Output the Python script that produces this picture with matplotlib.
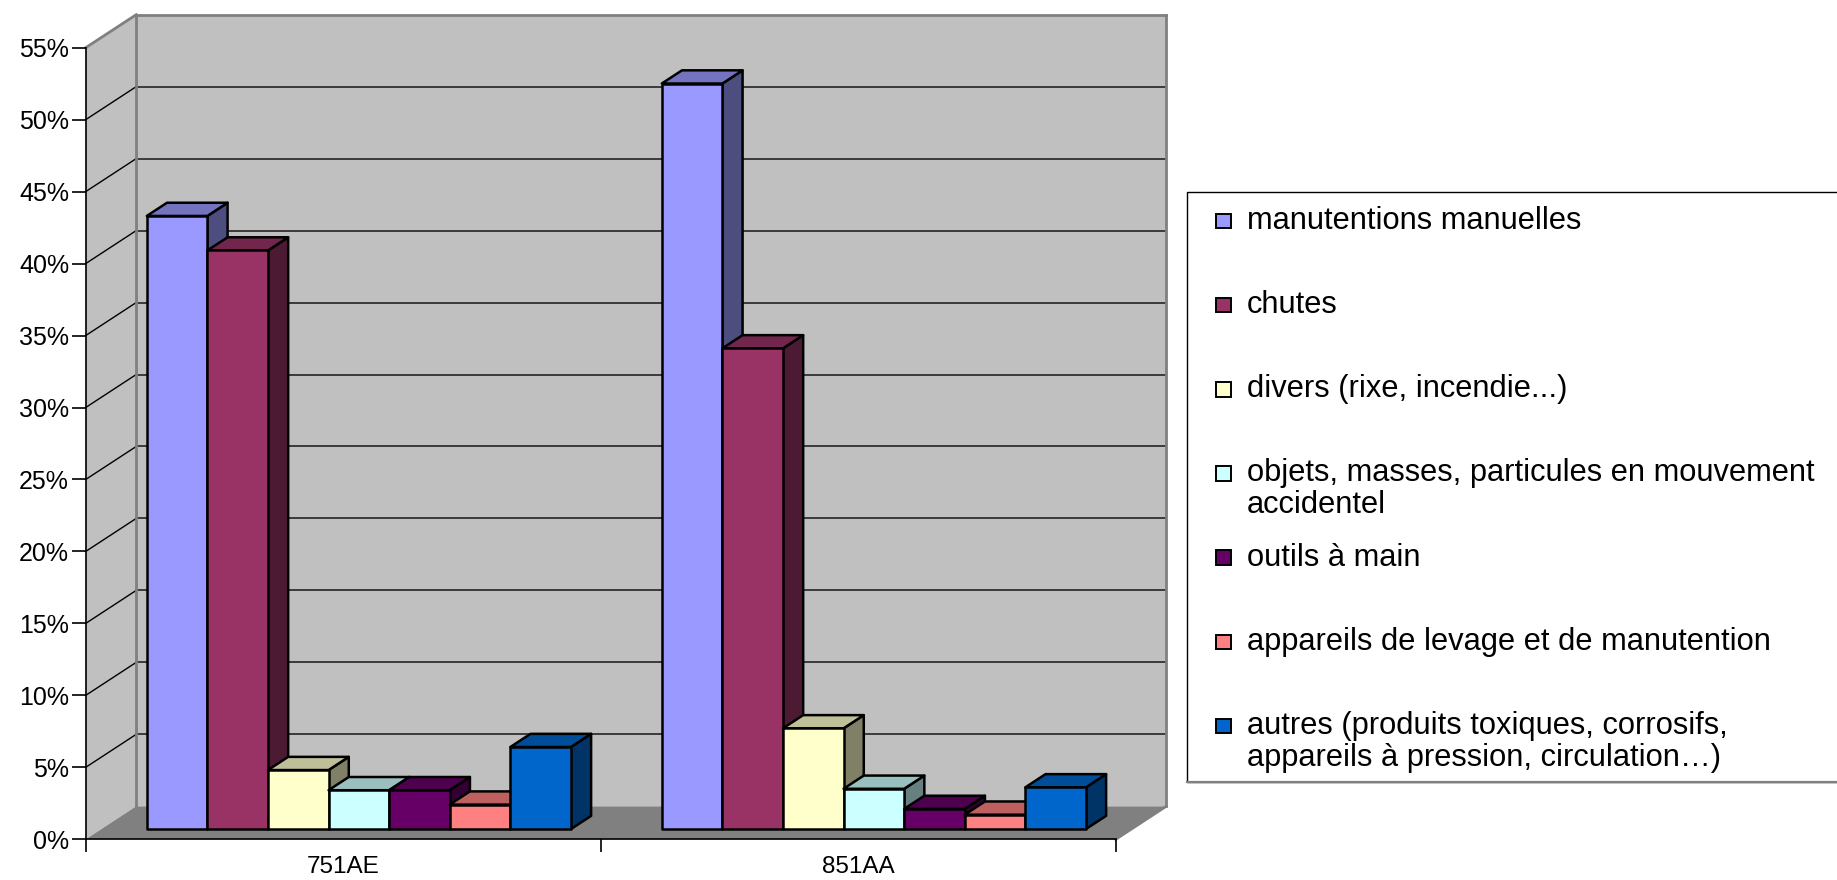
import numpy as np
import matplotlib.pyplot as plt
from matplotlib.patches import Polygon, Rectangle
from matplotlib.colors import to_rgb

plt.rcParams['font.family'] = ['Liberation Sans', 'DejaVu Sans']

# data (percent)
categories = ['751AE', '851AA']
series = ['manutentions manuelles',
          'chutes',
          'divers (rixe, incendie...)',
          'objets, masses, particules en mouvement\naccidentel',
          'outils à main',
          'appareils de levage et de manutention',
          'autres (produits toxiques, corrosifs,\nappareils à pression, circulation…)']
values_751AE = [42.6, 40.2, 4.1, 2.7, 2.7, 1.7, 5.7]
values_851AA = [51.8, 33.4, 7.0, 2.8, 1.4, 1.0, 2.9]
colors = ['#9999ff', '#993366', '#ffffcc', '#ccffff', '#660066', '#ff8080', '#0066cc']
yticks = list(range(0, 56, 5))

W, H = 1837, 880
fig = plt.figure(figsize=(W / 100, H / 100), dpi=100)


def shade(c, k):
    r, g, b = to_rgb(c)
    return (r * k, g * k, b * k)


# front plane of the pseudo 3d box
ax = fig.add_axes([85.7 / W, 40.7 / H, 1030 / W, 791.6 / H])
ax.set_xlim(0, 2)
ax.set_ylim(0, 55)
ax.patch.set_visible(False)
for s in ['top', 'right']:
    ax.spines[s].set_visible(False)
ax.spines['left'].set_linewidth(1.2)
ax.spines['bottom'].set_linewidth(1.2)

# depth of the box (pixels) converted to data units
px_x = ax.bbox.width / 2
px_y = ax.bbox.height / 55
ddx = 50.5 / px_x
ddy = 33 / px_y

grey = '#808080'
back = [(ddx, ddy), (2 + ddx, ddy), (2 + ddx, 55 + ddy), (ddx, 55 + ddy)]
left = [(0, 0), (ddx, ddy), (ddx, 55 + ddy), (0, 55)]
floor = [(0, 0), (2, 0), (2 + ddx, ddy), (ddx, ddy)]
ax.add_patch(Polygon(back, fc='#c0c0c0', ec='none', clip_on=False, zorder=0))
ax.add_patch(Polygon(left, fc='#c0c0c0', ec='none', clip_on=False, zorder=0))
ax.add_patch(Polygon(floor, fc=grey, ec='none', clip_on=False, zorder=0.5))

for v in yticks[1:-1]:
    ax.plot([ddx, 2 + ddx], [v + ddy, v + ddy], color='#303030', lw=1.3,
            clip_on=False, zorder=1)
    ax.plot([0, ddx], [v, v + ddy], color='black', lw=1, clip_on=False, zorder=1)

edges = [([ddx, ddx], [ddy, 55 + ddy]),
         ([ddx, 2 + ddx], [55 + ddy, 55 + ddy]),
         ([2 + ddx, 2 + ddx], [ddy, 55 + ddy]),
         ([0, ddx], [55, 55 + ddy]),
         ([2, 2 + ddx], [0, ddy])]
for xs, ys in edges:
    ax.plot(xs, ys, color=grey, lw=2, clip_on=False, zorder=1.2)

# bars
w = 1 / 8.5
f_front = 0.31
f_depth = 0.40
bdx, bdy = f_depth * ddx, f_depth * ddy
z = 3
for g, vals in enumerate([values_751AE, values_851AA]):
    for i, v in enumerate(vals):
        x0 = g + 0.5 - 3.5 * w + i * w + f_front * ddx
        y0 = f_front * ddy
        top = y0 + v
        c = colors[i]
        side = [(x0 + w, y0), (x0 + w + bdx, y0 + bdy), (x0 + w + bdx, top + bdy), (x0 + w, top)]
        topf = [(x0, top), (x0 + w, top), (x0 + w + bdx, top + bdy), (x0 + bdx, top + bdy)]
        ax.add_patch(Polygon(side, fc=shade(c, 0.5), ec='black', lw=1.8,
                             joinstyle='round', clip_on=False, zorder=z))
        ax.add_patch(Polygon(topf, fc=shade(c, 0.75), ec='black', lw=1.8,
                             joinstyle='round', clip_on=False, zorder=z))
        ax.add_patch(Rectangle((x0, y0), w, v, fc=c, ec='black', lw=1.8,
                               joinstyle='round', clip_on=False, zorder=z + 0.001))
        z += 0.01

ax.set_yticks(yticks)
ax.set_yticklabels([f'{v}%' for v in yticks])
ax.tick_params(axis='y', length=10, width=1.2, pad=2, labelsize=18)
ax.set_xticks([0, 1, 2])
ax.set_xticklabels([])
ax.tick_params(axis='x', which='major', length=9.5, width=1.2)
ax.set_xticks([0.5, 1.5], minor=True)
ax.set_xticklabels(categories, minor=True)
ax.tick_params(axis='x', which='minor', length=0, pad=12, labelsize=17.5)

# legend, drawn in pixel coordinates
lg = fig.add_axes([0, 0, 1, 1])
lg.set_xlim(0, W)
lg.set_ylim(H, 0)
lg.axis('off')
lg.add_patch(Rectangle((1186.7, 192.3), W, 782 - 192.3, fc='white', ec='black', lw=1))
lg.plot([1186.7, W], [782, 782], color=grey, lw=1.6)

step = 84.2
for i, (name, c) in enumerate(zip(series, colors)):
    yc = 220.7 + i * step
    lg.add_patch(Rectangle((1216, yc - 7), 14.5, 14.5, fc=c, ec='black', lw=1.4))
    for j, line in enumerate(name.split('\n')):
        lg.text(1246.7, yc + j * 32, line, fontsize=22.2, va='center', ha='left')

fig.savefig('out.png', dpi=100)
